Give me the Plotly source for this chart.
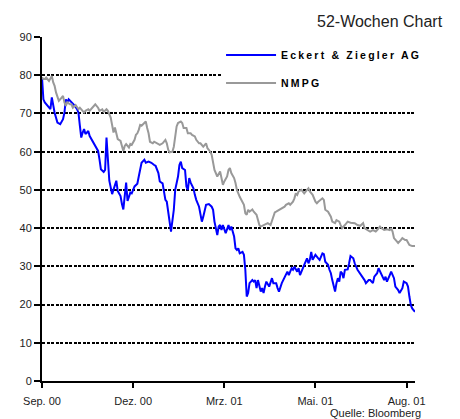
import plotly.graph_objects as go

# trading-day index (0 = early Sep 2000) and closing prices
eckert_x = [0, 1, 2, 5, 6, 7, 8, 9, 11, 13, 15, 16, 17, 18, 19, 21, 23, 25, 26, 27, 28, 29, 30, 31, 33, 34, 36, 38, 40, 41, 42, 44, 45, 46, 47, 48, 50, 52, 53, 54, 56, 57, 58, 60, 61, 63,
            64, 66, 68, 69, 70, 71, 73, 74, 76, 78, 80, 81, 83, 84, 86, 87, 88, 89, 90, 92, 94, 95, 97, 98, 99, 100, 102, 103, 104, 105, 106, 108, 109, 110, 112, 113, 114, 115, 116, 117, 119, 121, 122, 123, 125, 126, 127, 128, 129, 131, 133, 134, 135,
            137, 138, 139, 140, 141, 143, 144, 145, 146, 147, 148, 150, 151, 152, 153, 154, 156, 157, 158, 159, 160, 162, 163, 164, 165, 167, 168, 169, 171, 173, 175, 176, 178, 179, 180, 182, 183, 184, 186, 187, 189, 190, 191, 192, 193, 195,
            197, 198, 200, 201, 202, 204, 205, 206, 207, 209, 210, 211, 212, 213, 214, 215, 216, 218, 219, 220, 222, 223, 225, 226, 228, 230, 231, 233, 234, 236, 237, 239, 240, 241, 242, 244, 245, 246, 248, 249, 251, 252, 254, 255, 257, 258, 260, 261, 262, 263, 264, 266]
eckert_y = [79.4, 73.7, 72.9, 71.5, 71.1, 74.2, 71.5, 70.2, 67.6, 67.2, 68.5, 70.2, 73.7, 72.9, 73.7, 72.9, 72.2, 71.1, 70.2, 66.8, 63.7, 65.0, 65.9, 64.6, 65.4, 64.1, 62.8, 61.5, 60.2, 58.0, 55.4, 54.7, 55.2, 63.7, 56.3, 52.4, 48.9, 51.0, 52.4, 49.7, 48.4, 46.3, 44.9, 51.9, 47.1, 49.3,
            49.1, 50.9, 51.6, 53.5, 55.7, 57.1, 57.9, 57.1, 57.4, 57.1, 56.5, 56.3, 54.4, 52.2, 51.7, 50.0, 47.4, 46.9, 43.9, 39.1, 44.8, 50.0, 53.5, 56.5, 57.4, 55.7, 55.2, 50.9, 50.0, 53.1, 51.9, 50.4, 48.7, 47.4, 45.6, 43.9, 41.7, 43.0, 44.8, 46.1, 46.3, 45.6, 44.8, 41.7, 38.2, 40.4, 40.8, 39.5, 40.8, 38.7, 40.8, 39.5, 40.4,
            37.8, 34.7, 34.3, 34.7, 33.4, 33.8, 33.0, 29.1, 22.1, 23.0, 25.6, 26.4, 26.0, 26.4, 24.3, 26.4, 23.4, 24.3, 23.0, 24.7, 26.0, 24.7, 25.6, 26.9, 25.6, 25.6, 24.3, 23.4, 25.6, 27.3, 28.6, 27.7, 29.5, 29.1, 29.9, 28.6, 29.5, 27.7, 29.9, 30.4, 32.1, 30.8, 31.7, 33.8, 31.7, 33.0,
            32.1, 31.7, 33.4, 33.2, 31.2, 30.4, 29.1, 28.2, 26.4, 23.4, 25.6, 26.9, 26.0, 28.6, 28.2, 26.9, 29.1, 29.2, 30.8, 32.7, 32.1, 30.8, 29.1, 28.6, 27.7, 26.4, 25.6, 26.4, 26.4, 25.6, 27.3, 28.2, 29.5, 28.6, 27.7, 26.4, 27.3, 26.0, 27.7, 28.6, 26.9, 24.7, 23.8, 23.0, 24.3, 26.0, 25.6, 24.7, 22.1, 19.9, 19.0, 18.1]

nmpg_x = [0, 1, 2, 3, 5, 6, 7, 8, 9, 10, 11, 12, 13, 15, 16, 17, 18, 20, 21, 22, 24, 26, 27, 28, 30, 31, 33, 34, 36, 37, 38, 40, 41, 43, 44, 46, 47, 49, 50, 51, 52, 53, 54, 56, 57, 58, 59, 60, 62, 63,
          64, 66, 67, 68, 69, 70, 71, 73, 74, 75, 76, 77, 79, 80, 81, 83, 84, 86, 88, 89, 90, 91, 93, 94, 95, 96, 97, 99, 100, 101, 103, 104, 106, 107, 109, 110, 112, 113, 115, 117, 118, 120, 121, 122, 123, 125, 126, 127, 128, 129, 130, 132, 133, 134, 135,
          137, 138, 139, 141, 143, 144, 145, 146, 147, 148, 150, 151, 153, 154, 155, 156, 158, 160, 161, 163, 165, 166, 167, 169, 171, 173, 174, 176, 177, 179, 180, 181, 182, 183, 185, 187, 189, 190, 191, 193, 195, 196, 197, 199, 200,
          201, 202, 204, 205, 206, 207, 209, 210, 212, 213, 214, 216, 218, 220, 222, 223, 225, 227, 229, 230, 232, 234, 236, 238, 239, 241, 242, 244, 246, 248, 249, 250, 251, 253, 254, 256, 257, 259, 260, 262, 264, 266]
nmpg_y = [79.4, 79.0, 79.0, 79.4, 78.5, 79.4, 79.8, 78.1, 77.2, 75.5, 74.6, 73.3, 73.7, 74.6, 72.9, 72.0, 72.9, 72.4, 72.4, 71.5, 72.2, 71.1, 71.5, 71.1, 70.2, 70.7, 71.1, 70.7, 71.5, 72.0, 72.4, 71.5, 70.7, 71.1, 70.4, 71.1, 70.7, 68.9, 66.3, 65.0, 66.3, 65.0, 63.3, 62.8, 61.1, 60.2, 61.5, 62.0, 61.1, 62.0,
          61.8, 63.1, 64.4, 64.8, 65.7, 67.0, 66.8, 67.5, 67.9, 66.2, 64.8, 62.6, 62.2, 62.6, 62.4, 62.2, 61.8, 62.2, 63.1, 62.2, 60.5, 59.8, 60.0, 61.3, 64.0, 66.6, 67.5, 67.9, 67.5, 66.2, 66.2, 64.8, 64.8, 64.4, 64.0, 63.1, 62.2, 62.2, 61.3, 62.2, 60.9, 60.0, 59.2, 57.0, 55.2, 53.5, 54.4, 54.8, 53.1, 51.3, 52.2, 53.5, 55.2, 55.7, 54.4,
          53.1, 51.8, 50.0, 48.2, 46.9, 46.1, 43.9, 43.5, 44.8, 44.3, 44.9, 44.3, 43.5, 41.7, 40.8, 40.4, 40.8, 41.3, 41.3, 40.8, 43.0, 44.1, 44.3, 44.8, 45.2, 45.6, 46.1, 46.5, 46.1, 46.9, 47.8, 49.1, 48.7, 49.6, 50.0, 49.1, 50.0, 50.4, 49.6, 48.7, 46.9, 46.5, 46.9, 47.4, 47.8,
          47.4, 44.8, 44.3, 43.5, 43.0, 41.7, 41.3, 42.1, 41.7, 40.8, 40.0, 40.8, 41.7, 41.4, 41.3, 41.3, 40.8, 40.6, 41.3, 40.0, 39.5, 39.1, 39.5, 39.1, 39.5, 40.4, 40.0, 39.5, 39.7, 39.5, 40.0, 39.1, 37.4, 36.5, 36.1, 36.9, 37.4, 36.9, 36.9, 35.6, 35.3, 35.3]

tick_pos = [0, 65, 130, 195, 260]
tick_labels = ["Sep. 00", "Dez. 00", "Mrz. 01", "Mai. 01", "Aug. 01"]
series_names = ["Eckert & Ziegler AG", "NMPG"]

FONT = "Liberation Sans, Arial, sans-serif"
SPACED = '<span style="letter-spacing:2.2px">{}</span>'

fig = go.Figure()
fig.add_trace(go.Scatter(
    x=eckert_x, y=eckert_y, mode="lines",
    line=dict(color="#0000FF", width=2),
    name=SPACED.format(series_names[0]),
    legendgroup="a"))
fig.add_trace(go.Scatter(
    x=nmpg_x, y=nmpg_y, mode="lines",
    line=dict(color="#999999", width=2),
    name=SPACED.format(series_names[1]),
    legendgroup="b"))

# the page body has an 8px default margin, so the figure is sized to fit the window
fig.update_layout(
    width=452, height=411,
    margin=dict(l=32, r=45, t=29, b=38),
    paper_bgcolor="white", plot_bgcolor="white",
    font=dict(family=FONT, size=11, color="#222222"),
    showlegend=True,
    legend=dict(
        x=0.48, y=0.99, xanchor="left", yanchor="top",
        bgcolor="white", borderwidth=0,
        font=dict(family=FONT, size=10.5, color="black", weight="bold"),
        tracegroupgap=9, itemwidth=50,
    ),
    xaxis=dict(
        range=[0, 266], tickmode="array", tickvals=tick_pos, ticktext=tick_labels,
        showline=True, linecolor="black", linewidth=2,
        ticks="outside", ticklen=5, tickwidth=2, tickcolor="black",
        ticklabelstandoff=4,
        showgrid=False, zeroline=False, fixedrange=True,
        tickfont=dict(family=FONT, size=11, color="#222222"),
    ),
    yaxis=dict(
        range=[0, 90], tickmode="linear", tick0=0, dtick=10,
        showline=True, linecolor="black", linewidth=2,
        ticks="outside", ticklen=6, tickwidth=1.5, tickcolor="black",
        showgrid=True, gridcolor="black", gridwidth=1.5, griddash="3px,1.5px",
        zeroline=False, fixedrange=True,
        tickfont=dict(family=FONT, size=11, color="#222222"),
    ),
    annotations=[
        dict(text="52-Wochen Chart", xref="paper", yref="paper", x=1.08, y=1.045,
             xanchor="right", yanchor="middle", showarrow=False,
             font=dict(family=FONT, size=16, color="#222222")),
        dict(text="Quelle: Bloomberg", xref="paper", yref="paper", x=1.021, y=-0.093,
             xanchor="right", yanchor="middle", showarrow=False,
             font=dict(family=FONT, size=11, color="#222222")),
    ],
)

fig.write_html("out.html")
